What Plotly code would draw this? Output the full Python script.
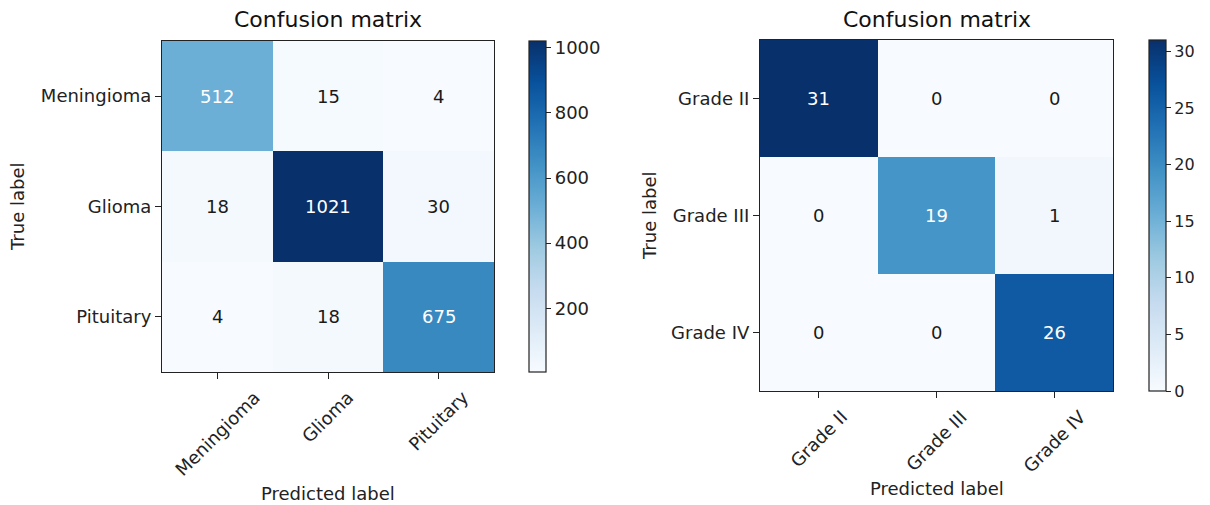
import plotly.graph_objects as go
import plotly.express as px

# Brain tumour type classification
tumour_classes = ["Meningioma", "Glioma", "Pituitary"]
tumour_counts = [
    [512, 15, 4],
    [18, 1021, 30],
    [4, 18, 675],
]

# Glioma grade classification
grade_classes = ["Grade II", "Grade III", "Grade IV"]
grade_counts = [
    [31, 0, 0],
    [0, 19, 1],
    [0, 0, 26],
]

W, H = 1210, 505
FONT = "DejaVu Sans"
blues = px.colors.sequential.Blues

fig = go.Figure()


def px_x(v):
    return v / W


def px_y(v):
    return 1 - v / H


panels = [
    dict(z=tumour_counts, labels=tumour_classes, xa="x", ya="y",
         box=(162, 494, 41, 372), cb_x=529, zmin=4, zmax=1021, dtick=200,
         cb_tick0=200, cb_font=18),
    dict(z=grade_counts, labels=grade_classes, xa="x2", ya="y2",
         box=(760, 1113, 40, 391), cb_x=1149, zmin=0, zmax=31, dtick=5,
         cb_tick0=0, cb_font=16),
]

tick_font = dict(family=FONT, size=18, color="#222")
annotations = []
for i, p in enumerate(panels):
    x0, x1, y0, y1 = p["box"]
    fig.add_trace(go.Heatmap(
        z=p["z"], x=[0, 1, 2], y=[0, 1, 2],
        xaxis=p["xa"], yaxis=p["ya"],
        colorscale=blues, zmin=p["zmin"], zmax=p["zmax"],
        xgap=0, ygap=0, hoverinfo="z",
        colorbar=dict(
            x=px_x(p["cb_x"]), xanchor="left", xref="paper",
            y=px_y((y0 + y1) / 2), yanchor="middle",
            lenmode="pixels", len=y1 - y0,
            thicknessmode="pixels", thickness=17,
            outlinewidth=1.2, outlinecolor="#222",
            ticks="outside", ticklen=5, tickcolor="#222",
            tick0=p["cb_tick0"], dtick=p["dtick"],
            tickfont=dict(family=FONT, size=p["cb_font"], color="#222"),
            xpad=0, ypad=0,
        ),
    ))
    # cell counts: light text on dark cells
    thresh = max(max(r) for r in p["z"]) / 2
    for r, row in enumerate(p["z"]):
        for c, v in enumerate(row):
            annotations.append(dict(
                x=c, y=r, xref=p["xa"], yref=p["ya"], text=str(v),
                showarrow=False, xanchor="center", yanchor="middle",
                font=dict(family=FONT, size=18,
                          color="white" if v > thresh else "#1a1a1a"),
            ))
    # rotated predicted-class labels, centred under each tick
    for c, name in enumerate(p["labels"]):
        annotations.append(dict(
            x=c, y=0, xref=p["xa"], yref=p["ya"] + " domain", text=name,
            showarrow=False, textangle=-45, xanchor="center", yanchor="top",
            yshift=-12, font=tick_font,
        ))
    axis_common = dict(
        showline=True, linecolor="#222", linewidth=1.2, mirror=True,
        ticks="outside", ticklen=6, tickcolor="#222", showgrid=False,
        zeroline=False, tickmode="array", tickvals=[0, 1, 2],
        ticktext=p["labels"], automargin=False, tickfont=tick_font,
    )
    sfx = "" if i == 0 else "2"
    fig.update_layout({
        "xaxis" + sfx: dict(axis_common, domain=[px_x(x0), px_x(x1)],
                            range=[-0.5, 2.5], showticklabels=False,
                            anchor="y" + sfx),
        "yaxis" + sfx: dict(axis_common, domain=[px_y(y1), px_y(y0)],
                            range=[2.5, -0.5], anchor="x" + sfx),
    })

# Titles and axis titles
title_font = dict(family=FONT, size=22, color="#111")
label_font = dict(family=FONT, size=18, color="#222")


def paper_text(text, x, y, font, angle=0):
    return dict(text=text, x=px_x(x), y=px_y(y), xref="paper", yref="paper",
                xanchor="center", yanchor="middle", showarrow=False,
                textangle=angle, font=font)


annotations += [
    paper_text("Confusion matrix", 328, 19, title_font),
    paper_text("Confusion matrix", 937, 19, title_font),
    paper_text("Predicted label", 328, 493, label_font),
    paper_text("Predicted label", 937, 488, label_font),
    paper_text("True label", 18, 207, label_font, -90),
    paper_text("True label", 650, 216, label_font, -90),
]

fig.update_layout(
    width=W, height=H,
    margin=dict(l=0, r=0, t=0, b=0, autoexpand=False),
    paper_bgcolor="white", plot_bgcolor="white",
    annotations=annotations,
    showlegend=False,
)

fig.write_html("out.html")
